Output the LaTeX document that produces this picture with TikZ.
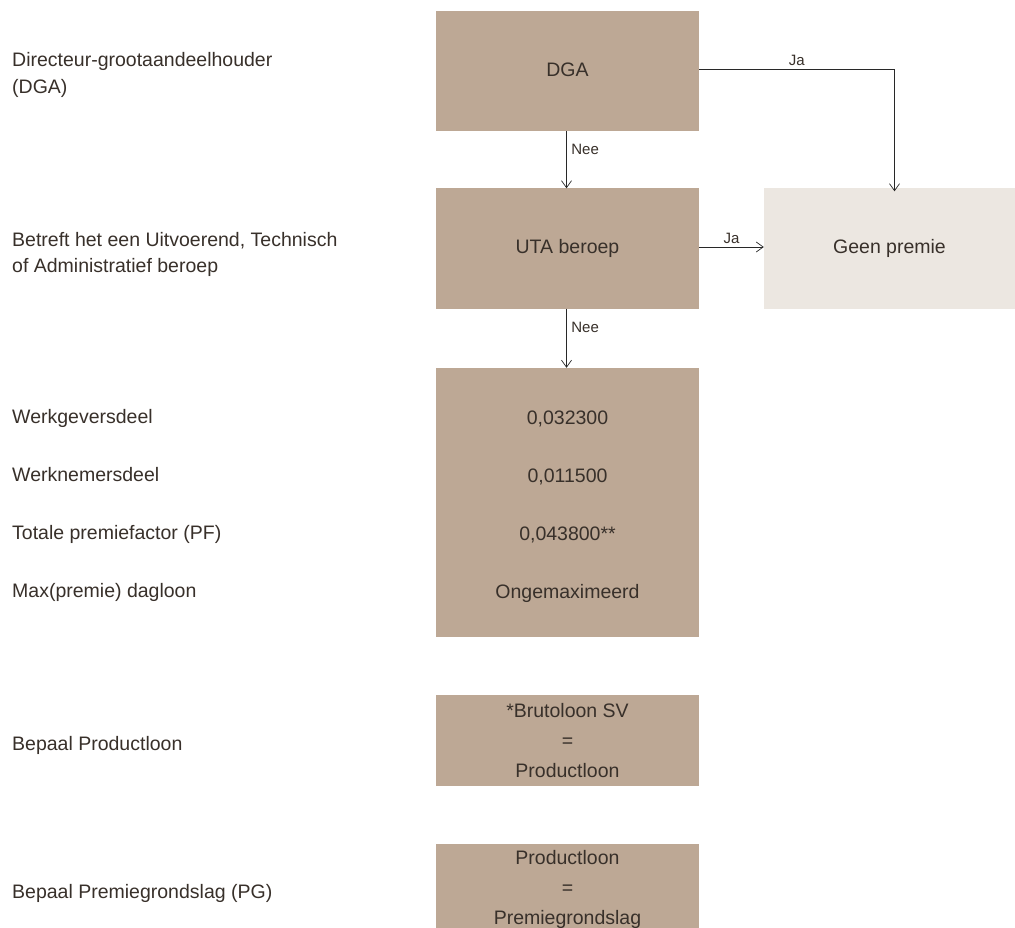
\documentclass[tikz,border=0pt]{standalone}
\usepackage{fontspec}
\setmainfont{Liberation Sans}
\usetikzlibrary{arrows.meta}
\definecolor{boxfill}{RGB}{189,168,149}
\definecolor{lightfill}{RGB}{236,231,225}
\definecolor{txt}{RGB}{56,48,42}
\definecolor{linec}{RGB}{40,40,40}
\begin{document}
\begin{tikzpicture}[x=1pt,y=-1pt,
  every node/.style={text=txt},
  lbl/.style={font=\fontsize{19.5}{26.5}\selectfont, inner sep=0pt, align=left},
  darkbox/.style={fill=boxfill, draw=none, minimum width=263pt, inner sep=0pt, align=center, font=\fontsize{19.5}{30}\selectfont},
  lightbox/.style={fill=lightfill, draw=none, minimum width=251pt, inner sep=0pt, align=center, font=\fontsize{19.5}{30}\selectfont},
  conn/.style={draw=linec, line width=0.8pt, -{Straight Barb[length=7pt,width=10pt,line width=0.7pt]}},
  small/.style={font=\fontsize{15}{18}\selectfont, text=txt, inner sep=0pt}
]
\clip (0,0) rectangle (1015,928);
\fill[white] (0,0) rectangle (1015,928);

% left labels
\node[lbl, anchor=west] (l1) at (12,75) {Directeur-grootaandeelhouder\\(DGA)};
\node[lbl, anchor=west] (l2) at (12,254.5) {Betreft het een Uitvoerend, Technisch\\of Administratief beroep};
\node[lbl, anchor=base west] (l3) at (12,423.3) {Werkgeversdeel};
\node[lbl, anchor=base west] (l4) at (12,481.5) {Werknemersdeel};
\node[lbl, anchor=base west] (l5) at (12,539.5) {Totale premiefactor (PF)};
\node[lbl, anchor=base west] (l6) at (12,597.5) {Max(premie) dagloon};
\node[lbl, anchor=base west] (l7) at (12,750) {Bepaal Productloon};
\node[lbl, anchor=base west] (l8) at (12,898) {Bepaal Premiegrondslag (PG)};

% boxes
\node[darkbox, minimum height=120pt] (dga) at (567.5,71) {};
\node[inner sep=0pt, font=\fontsize{19.5}{30}\selectfont] (dgatext) at (567.5,69.5) {DGA};
\node[darkbox, minimum height=120pt] (uta) at (567.5,248.5) {UTA beroep};
\node[lightbox, minimum height=120pt] (geen) at (889.5,248.5) {Geen premie};
\node[darkbox, minimum height=269pt] (pf) at (567.5,502.5) {};
\node[align=center, inner sep=0pt, font=\fontsize{19.5}{58}\selectfont] (pftext) at (567.5,506.5) {0,032300\\0,011500\\0,043800**\\Ongemaximeerd};
\node[darkbox, minimum height=91pt] (pl) at (567.5,740.5) {*Brutoloon SV\\=\\Productloon};
\node[darkbox, minimum height=91pt] (pg) at (567.5,889.5) {Productloon\\=\\Premiegrondslag};

% connectors
\coordinate (corner) at (894.5,69);
\draw[conn] (dga.east |- 0,69) -- node[small, above=3pt, midway] (ja1) {Ja} (corner) -- ([yshift=-3pt]geen.north -| corner);
\draw[conn] (dga.south -| 566.5,0) -- node[small, right=4.5pt, pos=0.32] (nee1) {Nee} (uta.north -| 566.5,0);
\draw[conn] (uta.east |- 0,247) -- node[small, above=3pt, midway] (ja2) {Ja} (geen.west |- 0,247);
\draw[conn] (uta.south -| 566.5,0) -- node[small, right=4.5pt, pos=0.32] (nee2) {Nee} (pf.north -| 566.5,0);
\end{tikzpicture}
\end{document}
